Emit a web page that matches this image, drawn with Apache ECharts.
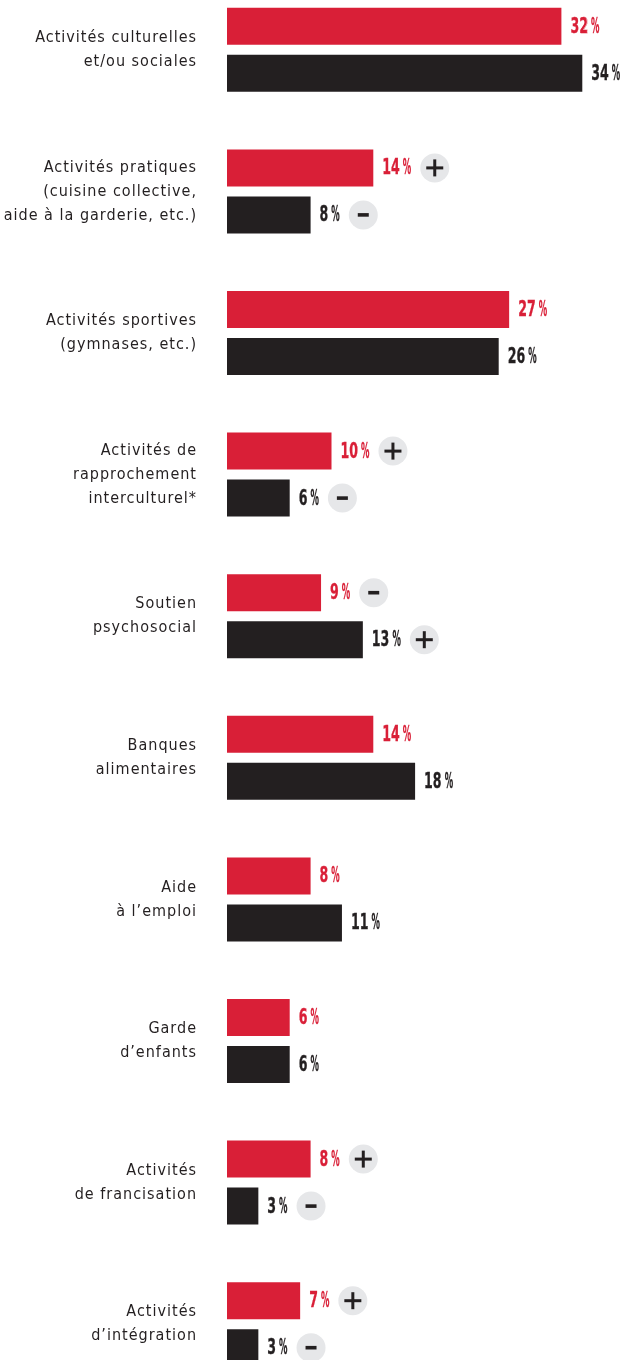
<!DOCTYPE html>
<html>
<head>
<meta charset="utf-8">
<script src="https://cdn.jsdelivr.net/npm/echarts@6/dist/echarts.min.js"></script>
<style>
  html, body { margin: 0; padding: 0; background: #ffffff; }
  #chart { width: 624px; height: 1360px; }
</style>
</head>
<body>
<div id="chart"></div>
<script>
// Categories (top to bottom)
const categories = [
  'Activités culturelles\net/ou sociales',
  'Activités pratiques\n(cuisine collective,\naide à la garderie, etc.)',
  'Activités sportives\n(gymnases, etc.)',
  'Activités de\nrapprochement\ninterculturel*',
  'Soutien\npsychosocial',
  'Banques\nalimentaires',
  'Aide\nà l’emploi',
  'Garde\nd’enfants',
  'Activités\nde francisation',
  'Activités\nd’intégration'
];

// Percentages: red series and black series
const redValues = [32, 14, 27, 10, 9, 14, 8, 6, 8, 7];
const blackValues = [34, 8, 26, 6, 13, 18, 11, 6, 3, 3];

// Over / under markers shown next to a value ('' = none)
const redSigns = ['', '+', '', '+', '-', '', '', '', '+', '+'];
const blackSigns = ['', '-', '', '-', '+', '', '', '', '-', '-'];

const RED = '#d91f37';
const BLACK = '#231f20';
const CIRCLE = '#e6e7e9';
const CAT_FONT = '"DejaVu Sans Condensed", "DejaVu Sans", sans-serif';
const VAL_FONT_FAMILY = '"DejaVu Sans", sans-serif';
const VAL_SIZE = 21;
const NUM_SCALE_X = 0.6;    // narrow, tall figures
const PCT_SCALE_X = 0.4;    // narrower percent sign
const PCT_GAP = 3;
const BAR_W = 37;
const BAR_GAP = 10;

// Tracked lettering for the category names (canvas letterSpacing)
(function () {
  const proto = CanvasRenderingContext2D.prototype;
  const origFill = proto.fillText;
  proto.fillText = function (t, x, y, m) {
    if ('letterSpacing' in this) {
      this.letterSpacing = this.font.indexOf('Condensed') >= 0 ? '1px' : '0px';
    }
    return m === undefined ? origFill.call(this, t, x, y) : origFill.call(this, t, x, y, m);
  };
})();

const measureCtx = document.createElement('canvas').getContext('2d');
function valueWidth(text) {
  measureCtx.font = 'bold ' + VAL_SIZE + 'px ' + VAL_FONT_FAMILY;
  return measureCtx.measureText(text).width;
}

function valueText(x, y, text, scaleX, color) {
  return {
    type: 'text',
    x: x, y: y,
    scaleX: scaleX,
    style: {
      text: text,
      fontFamily: VAL_FONT_FAMILY,
      fontWeight: 'bold',
      fontSize: VAL_SIZE,
      fill: color,
      stroke: color,
      lineWidth: 0.35,
      align: 'left',
      verticalAlign: 'middle'
    }
  };
}

// Value text plus optional +/- badge, placed at the end of each bar
function labelRenderer(signs, color, side) {
  return function (params, api) {
    const i = params.dataIndex;
    const v = api.value(0);
    const c = api.value(1);
    const pt = api.coord([v, c]);
    const y = pt[1] + side * (BAR_GAP / 2 + BAR_W / 2) + 1;
    const x = pt[0] + 9;
    const num = String(v);
    const numW = valueWidth(num) * NUM_SCALE_X;
    const pctX = x + numW + PCT_GAP;
    const pctW = valueWidth('%') * PCT_SCALE_X;
    const children = [
      valueText(x, y, num, NUM_SCALE_X, color),
      valueText(pctX, y, '%', PCT_SCALE_X, color)
    ];
    const s = signs[i];
    if (s) {
      const r = 14.5;
      const cx = pctX + pctW + 9 + r;
      const cy = y - 1;
      children.push({ type: 'circle', shape: { cx: cx, cy: cy, r: r }, style: { fill: CIRCLE } });
      if (s === '+') {
        children.push({ type: 'rect', shape: { x: cx - 8.5, y: cy - 1.5, width: 17, height: 3 }, style: { fill: BLACK } });
        children.push({ type: 'rect', shape: { x: cx - 1.5, y: cy - 8.5, width: 3, height: 17 }, style: { fill: BLACK } });
      } else {
        children.push({ type: 'rect', shape: { x: cx - 5.5, y: cy - 1.8, width: 11, height: 3.6 }, style: { fill: BLACK } });
      }
    }
    return { type: 'group', children: children };
  };
}

const chart = echarts.init(document.getElementById('chart'), null, { renderer: 'canvas' });
chart.setOption({
  animation: false,
  backgroundColor: '#ffffff',
  grid: { left: 227, top: -21, width: 418, height: 1416, containLabel: false, outerBoundsMode: 'none' },
  xAxis: {
    type: 'value', min: 0, max: 40, show: false,
    splitLine: { show: false }
  },
  yAxis: {
    type: 'category',
    data: categories,
    inverse: true,
    axisLine: { show: false },
    axisTick: { show: false },
    axisLabel: {
      margin: 30,
      fontFamily: CAT_FONT,
      fontSize: 16,
      lineHeight: 24,
      color: BLACK,
      align: 'right'
    }
  },
  series: [
    {
      type: 'bar', data: redValues, barWidth: BAR_W, barGap: (BAR_GAP / BAR_W * 100).toFixed(1) + '%',
      itemStyle: { color: RED }
    },
    {
      type: 'bar', data: blackValues, barWidth: BAR_W,
      itemStyle: { color: BLACK }
    },
    {
      type: 'custom', clip: false, z: 5,
      data: redValues.map(function (v, i) { return [v, i]; }),
      encode: { x: 0, y: 1 },
      renderItem: labelRenderer(redSigns, RED, -1)
    },
    {
      type: 'custom', clip: false, z: 5,
      data: blackValues.map(function (v, i) { return [v, i]; }),
      encode: { x: 0, y: 1 },
      renderItem: labelRenderer(blackSigns, BLACK, 1)
    }
  ]
});
</script>
</body>
</html>
